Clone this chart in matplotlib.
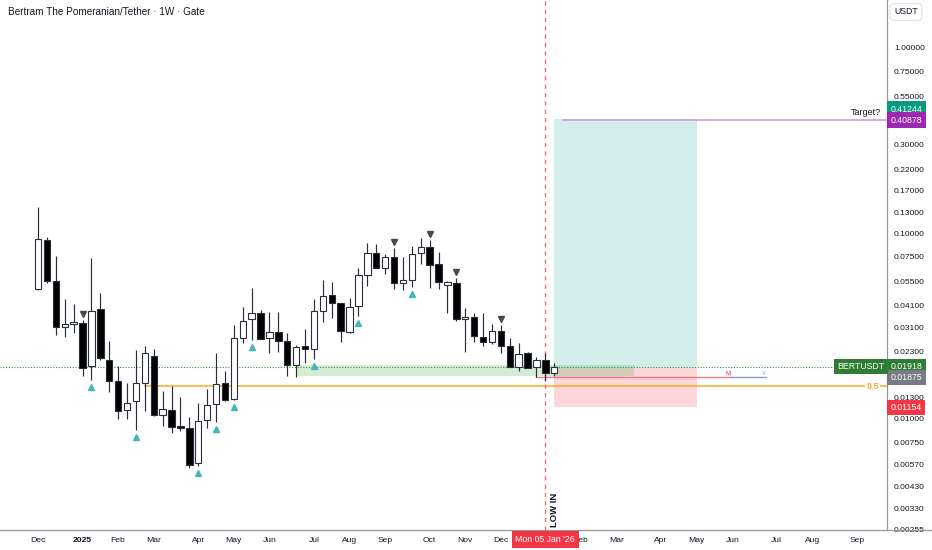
import matplotlib
matplotlib.use('Agg')
import matplotlib.pyplot as plt
import matplotlib.transforms as mtransforms
from matplotlib.lines import Line2D
from matplotlib.ticker import NullLocator, NullFormatter
import numpy as np

plt.rcParams['font.family'] = ['Liberation Sans', 'DejaVu Sans']

# ---- weekly OHLC (week 0 = Mon 02 Dec 2024) ----
opens = [0.0500, 0.0923, 0.0553, 0.0312, 0.0324, 0.0331, 0.0193, 0.0391, 0.0207, 0.0160,
         0.01119, 0.01246, 0.01570, 0.02195, 0.01052, 0.01119, 0.00918, 0.00892, 0.00582, 0.00985,
         0.01201, 0.01558, 0.01278, 0.02718, 0.03449, 0.03743, 0.02745, 0.02946, 0.02635, 0.01956,
         0.02467, 0.02385, 0.0382, 0.04645, 0.04206, 0.02957, 0.04068, 0.05976, 0.0785, 0.06542,
         0.0747, 0.0539, 0.05616, 0.07802, 0.08458, 0.06824, 0.05278, 0.0539, 0.03461, 0.03535,
         0.02779, 0.02612, 0.02994, 0.02476, 0.01915, 0.02262, 0.01915, 0.02081, 0.01778]
highs = [0.1384, 0.0954, 0.0756, 0.0444, 0.0415, 0.0342, 0.0741, 0.0476, 0.0263, 0.0192,
         0.01558, 0.02365, 0.02467, 0.02385, 0.01422, 0.01507, 0.01310, 0.01030, 0.01216, 0.01447,
         0.02278, 0.01816, 0.03214, 0.04018, 0.05066, 0.03871, 0.03790, 0.03776, 0.02920, 0.02507,
         0.03047, 0.04421, 0.05616, 0.05458, 0.0424, 0.04475, 0.06542, 0.08855, 0.08811, 0.07754,
         0.08322, 0.07499, 0.08563, 0.09457, 0.0923, 0.07919, 0.05547, 0.05779, 0.03983, 0.03716,
         0.03743, 0.03266, 0.03214, 0.02725, 0.02561, 0.02290, 0.02168, 0.02278, 0.02012]
lows = [0.0496, 0.0539, 0.0283, 0.0276, 0.0290, 0.0171, 0.0162, 0.0208, 0.0140, 0.0100,
        0.0100, 0.00874, 0.01105, 0.01039, 0.00918, 0.00839, 0.00860, 0.00543, 0.00561, 0.00899,
        0.00968, 0.01256, 0.01267, 0.02570, 0.02668, 0.02701, 0.02270, 0.02284, 0.01706, 0.01692,
        0.02012, 0.02100, 0.03348, 0.03518, 0.02593, 0.0290, 0.03593, 0.05212, 0.06494, 0.06073,
        0.05022, 0.0496, 0.05148, 0.06849, 0.05066, 0.05022, 0.03716, 0.03377, 0.02290, 0.02593,
        0.02485, 0.02529, 0.02278, 0.01915, 0.01823, 0.01878, 0.01692, 0.01610, 0.01706]
closes = [0.0931, 0.0555, 0.0313, 0.0324, 0.0332, 0.0189, 0.0382, 0.0214, 0.0160, 0.01109,
          0.01225, 0.01570, 0.02278, 0.01052, 0.01129, 0.00910, 0.00896, 0.00565, 0.00973, 0.01195,
          0.01545, 0.01267, 0.02725, 0.03390, 0.03743, 0.02711, 0.02939, 0.02645, 0.01956, 0.02455,
          0.02385, 0.03809, 0.04622, 0.04222, 0.02983, 0.04033, 0.05976, 0.07851, 0.06542, 0.07470,
          0.0539, 0.05616, 0.07754, 0.08489, 0.06765, 0.05458, 0.05458, 0.03449, 0.03548, 0.02803,
          0.02612, 0.02983, 0.02485, 0.01915, 0.02234, 0.01892, 0.02081, 0.01778, 0.01918]

# pivot markers (week indices)
up_marks = [6, 11, 18, 20, 22, 24, 31, 36, 42]
down_marks = [5, 40, 44, 47, 52]

# month ticks (week indices) and labels
tick_weeks = [0, 5, 9, 13, 18, 22, 26, 31, 35, 39, 44, 48, 52, 61, 65, 70, 74, 78, 83, 87, 92]
tick_labels = ['Dec', '2025', 'Feb', 'Mar', 'Apr', 'May', 'Jun', 'Jul', 'Aug', 'Sep', 'Oct',
               'Nov', 'Dec', 'Feb', 'Mar', 'Apr', 'May', 'Jun', 'Jul', 'Aug', 'Sep']

price_ticks = [1.0, 0.75, 0.55, 0.30, 0.22, 0.17, 0.13, 0.10, 0.075, 0.055, 0.041, 0.031,
               0.023, 0.013, 0.010, 0.0075, 0.0057, 0.0043, 0.0033, 0.00255]

# levels / position tool
last_price = 0.01918
entry_price = 0.01875
target_price = 0.41244
stop_price = 0.01154
target_line = 0.40878
fib_half = 0.0150
zone_low, zone_high = 0.01706, 0.01956
my_level = 0.01692
low_week = 57
pos_start, pos_end = 58, 74
zone_start, zone_end = 29, 67

opens = np.array(opens); highs = np.array(highs)
lows = np.array(lows); closes = np.array(closes)
x = np.arange(len(opens))

fig = plt.figure(figsize=(9.32, 5.5), dpi=100)
ax = fig.add_axes([0, 20/550, 887/932, 530/550])
ax.set_yscale('log')
ax.set_ylim(0.002521, 1.8144)
ax.set_xlim(-4.27, 95.39)

# spines
for s in ['top', 'left']:
    ax.spines[s].set_visible(False)
ax.spines['right'].set_color('#9598a1')
ax.spines['bottom'].set_color('#9598a1')
ax.spines['right'].set_linewidth(0.9)
ax.spines['bottom'].set_linewidth(0.9)
fig.add_artist(Line2D([887/932, 1], [20/550, 20/550], color='#9598a1', lw=0.9))

# y ticks
ax.yaxis.tick_right()
ax.set_yticks(price_ticks)
ax.set_yticklabels([f'{v:.5f}' for v in price_ticks])
ax.yaxis.set_minor_locator(NullLocator())
ax.yaxis.set_minor_formatter(NullFormatter())
ax.tick_params(axis='y', length=0, pad=5, labelsize=6.1, labelcolor='#131722')
# x ticks
ax.set_xticks(tick_weeks)
ax.set_xticklabels(tick_labels)
ax.tick_params(axis='x', length=0, pad=5, labelsize=6.1, labelcolor='#131722')
ax.get_xticklabels()[1].set_fontweight('bold')

# position tool boxes
ax.fill_between([pos_start, pos_end], entry_price, target_price, color='#26a69a', alpha=0.2, lw=0, zorder=1)
ax.fill_between([pos_start, pos_end], stop_price, entry_price, color='#f23645', alpha=0.2, lw=0, zorder=1)
# support zone
ax.fill_between([zone_start, zone_end], zone_low, zone_high, color='#4caf50', alpha=0.24, lw=0, zorder=1.2)

# lines
ax.plot([-4.27, 90.45], [last_price]*2, color='#388e3c', lw=0.8, ls=(0, (1, 1.5)), zorder=1.5)
ax.plot([12, 95.39], [fib_half]*2, color='#ffa726', lw=1.1, zorder=1.5)
ax.text(93.8, fib_half, '0.5', color='#ffa726', fontsize=6.5, fontweight='bold', ha='center', va='center',
        bbox=dict(boxstyle='square,pad=0.15', fc='white', ec='none'), zorder=6)
ax.plot([59, 95.39], [target_line]*2, color='#ce93d8', lw=1.1, zorder=1.5)
ax.annotate('Target?', xy=(94.7, target_line), xytext=(0, 5.5), textcoords='offset points',
            ha='right', va='center', fontsize=6.5, color='#131722', zorder=6)
ax.plot([56, 77.9], [my_level]*2, color='#f7525f', lw=1.0, alpha=0.75, zorder=1.6)
ax.plot([77.9, 81.8], [my_level]*2, color='#8c9ad0', lw=1.0, zorder=1.6)
ax.annotate('M', xy=(77.5, my_level), xytext=(0, 2.5), textcoords='offset points',
            ha='center', va='center', fontsize=4.5, color='#f23645')
ax.annotate('Y', xy=(81.6, my_level), xytext=(0, 2.5), textcoords='offset points',
            ha='center', va='center', fontsize=4.5, color='#5b9cf6')
ax.axvline(low_week, color='#f23645', lw=1.0, ls=(0, (3, 3)), alpha=0.75, zorder=2)

# candles
up = closes >= opens
ax.vlines(x, lows, highs, color='#2a2e39', lw=0.85, zorder=3)
body_lo = np.minimum(opens, closes)
body_hi = np.maximum(opens, closes)
ax.bar(x, body_hi - body_lo, bottom=body_lo, width=0.72,
       color=np.where(up, 'white', 'black'), edgecolor='#2a2e39', linewidth=0.8, zorder=4)

# markers
up_tr = mtransforms.offset_copy(ax.transData, fig=fig, x=0, y=-5, units='points')
dn_tr = mtransforms.offset_copy(ax.transData, fig=fig, x=0, y=4.2, units='points')
ax.plot(x[up_marks], lows[up_marks], ls='none', marker='^', ms=3.8, color='#45b5be', transform=up_tr, zorder=5)
ax.plot(x[down_marks], highs[down_marks], ls='none', marker='v', ms=3.8, color='#4a4a4a', transform=dn_tr, zorder=5)

# price labels on right axis
bt = mtransforms.blended_transform_factory(ax.transAxes, ax.transData)
def plabel(price, text, fc, dy=0):
    ax.annotate(text, xy=(1, price), xycoords=bt, xytext=(2.6, dy), textcoords='offset points',
                ha='left', va='center', fontsize=6.3, color='white',
                bbox=dict(boxstyle='square,pad=0.38', fc=fc, ec='none'),
                annotation_clip=False, zorder=10)

plabel(target_price, f'{target_price:.5f}', '#089981', dy=7.4)
plabel(target_line, f'{target_line:.5f}', '#9c27b0', dy=0)
plabel(last_price, f'{last_price:.5f}', '#2e7d32', dy=0)
plabel(entry_price, f'{entry_price:.5f}', '#787b86', dy=-6.6)
plabel(stop_price, f'{stop_price:.5f}', '#f23645', dy=0)
ax.annotate('BERTUSDT', xy=(0.9975, last_price), xycoords=bt, ha='right', va='center',
            fontsize=6.3, color='white', bbox=dict(boxstyle='square,pad=0.38', fc='#2e7d32', ec='none'),
            annotation_clip=False, zorder=10)

# date label and LOW IN
bx = mtransforms.blended_transform_factory(ax.transData, ax.transAxes)
ax.annotate("Mon 05 Jan '26", xy=(low_week, 0), xycoords=bx, xytext=(0, -6.6), textcoords='offset points',
            ha='center', va='center', fontsize=6.3, color='white',
            bbox=dict(boxstyle='square,pad=0.45', fc='#f23645', ec='none'), annotation_clip=False, zorder=10)
ax.text(58.0, 0.006, 'LOW IN', rotation=90, transform=bx, ha='center', va='bottom',
        fontsize=6.8, fontweight='bold', color='#131722', zorder=6)

# header texts
fig.text(8/932, 1 - 12/550, 'Bertram The Pomeranian/Tether · 1W · Gate', ha='left', va='center',
         fontsize=7.2, color='#131722')
fig.text(906/932, 1 - 12/550, 'USDT', ha='center', va='center', fontsize=6.3, color='#131722',
         bbox=dict(boxstyle='round,pad=0.45', fc='white', ec='#e0e3eb', lw=0.8))

fig.savefig('out.png', dpi=100, facecolor='white')
